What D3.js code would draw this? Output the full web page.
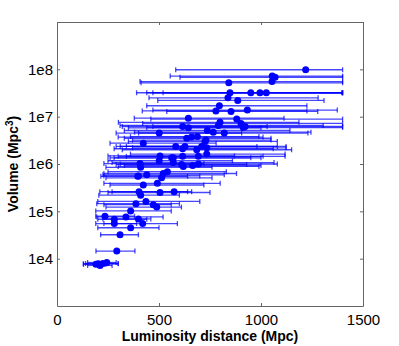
<!DOCTYPE html>
<html>
<head>
<meta charset="utf-8">
<script src="https://cdn.jsdelivr.net/npm/d3@7"></script>
<style>
  body { margin: 0; background: #fff; }
  svg text { font-family: "Liberation Sans", Arial, sans-serif; fill: #000; }
</style>
</head>
<body>
<svg id="chart"></svg>
<script>
// luminosity distance (Mpc), best estimate
const distance = [1219, 1055, 1069, 1054, 842, 848, 950, 995, 1026, 838,
  886, 796, 779, 853, 933, 644, 881, 799, 902, 913,
  791, 616, 644, 501, 737, 766, 820, 636, 660, 688,
  730, 423, 582, 627, 709, 734, 505, 570, 616, 693,
  734, 407, 501, 570, 611, 665, 410, 541, 521, 513,
  399, 440, 423, 492, 402, 410, 505, 574, 436, 387,
  472, 489, 361, 235, 281, 281, 338, 399, 420, 361,
  309, 293, 244, 202, 211, 191, 225, 685, 616, 562,
  619, 693, 725, 922, 396];

// comoving volume (Mpc^3)
const volume = [9.8e7, 7.2e7, 6.8e7, 5.5e7, 5.2e7, 3.2e7, 3.2e7, 3.2e7, 3.2e7, 2.5e7,
  2.2e7, 1.7e7, 1.32e7, 1.29e7, 1.38e7, 9.3e6, 8.9e6, 7.6e6, 7.2e6, 5.9e6,
  6.5e6, 6.2e6, 5.8e6, 4.5e6, 5.1e6, 4.7e6, 4.5e6, 3.5e6, 3.7e6, 3.8e6,
  3.2e6, 2.75e6, 2.35e6, 2.35e6, 2.35e6, 2.2e6, 1.48e6, 1.35e6, 1.45e6, 1.45e6,
  1.62e6, 1.02e6, 1.17e6, 1.07e6, 9.8e5, 9.3e5, 8.5e5, 6.9e5, 6.3e5, 5.1e5,
  5.6e5, 5.9e5, 3.6e5, 3.9e5, 2.6e5, 2.2e5, 2.5e5, 2.6e5, 1.62e5, 1.45e5,
  1.38e5, 1.23e5, 1.02e5, 7.9e4, 6.8e4, 5.5e4, 7.6e4, 6.9e4, 5.5e4, 4.5e4,
  3.2e4, 1.45e4, 8.3e3, 7.8e3, 7.2e3, 7.6e3, 7.9e3, 2.0e6, 2.1e6, 1.35e6,
  8.9e5, 1.0e6, 3.0e6, 6.2e6, 5.5e5];

// lower and upper ends of the distance interval (Mpc)
const distanceLow = [582, 555, 603, 407, 412, 390, 440, 520, 470, 451,
  494, 440, 418, 538, 470, 379, 460, 301, 420, 440,
  309, 320, 350, 290, 330, 380, 400, 330, 300, 360,
  370, 260, 290, 310, 340, 370, 250, 280, 300, 340,
  360, 230, 250, 270, 290, 330, 240, 250, 230, 240,
  230, 225, 260, 230, 210, 205, 250, 270, 200, 195,
  230, 240, 190, 190, 200, 190, 195, 225, 230, 200,
  214, 191, 150, 129, 150, 130, 140, 320, 280, 260,
  300, 310, 350, 470, 215];

const distanceHigh = [1400, 1400, 1400, 1400, 1400, 1400, 1395, 1400, 1400, 1280,
  1309, 1225, 1225, 1278, 1374, 1113, 1400, 1186, 1400, 1400,
  1305, 1030, 1000, 905, 1142, 1245, 1230, 1049, 1010, 990,
  1049, 780, 980, 1123, 1080, 1123, 870, 950, 1118, 1010,
  1118, 720, 860, 1064, 930, 1000, 760, 830, 880, 760,
  700, 820, 720, 800, 660, 600, 750, 640, 700, 600,
  560, 610, 560, 380, 440, 390, 520, 460, 590, 500,
  399, 382, 290, 300, 270, 240, 300, 1150, 1060, 1000,
  990, 1080, 1080, 1400, 640];

const xTicks = [0, 500, 1000, 1500];
const yTicks = [1e4, 1e5, 1e6, 1e7, 1e8];

const width = 399, height = 346;
const margin = {top: 22, right: 36, bottom: 40, left: 57};

const svg = d3.select('#chart')
    .attr('width', width)
    .attr('height', height);

const x = d3.scaleLinear()
    .domain([0, 1500])
    .range([margin.left, width - margin.right]);

const y = d3.scaleLog()
    .domain([1e3, 1e9])
    .range([height - margin.bottom, margin.top]);

const data = distance.map((d, i) => ({
  d: d, v: volume[i], lo: distanceLow[i], hi: distanceHigh[i]
}));

// error bars
const bars = svg.append('g')
    .attr('stroke', '#0000ff')
    .attr('stroke-opacity', 0.72)
    .attr('stroke-width', 1.3);

bars.selectAll('line.bar')
  .data(data)
  .join('line')
    .attr('class', 'bar')
    .attr('x1', p => x(p.lo))
    .attr('x2', p => x(p.hi))
    .attr('y1', p => y(p.v))
    .attr('y2', p => y(p.v));

const capH = 2.5;
bars.selectAll('line.capL')
  .data(data)
  .join('line')
    .attr('class', 'capL')
    .attr('x1', p => x(p.lo)).attr('x2', p => x(p.lo))
    .attr('y1', p => y(p.v) - capH).attr('y2', p => y(p.v) + capH);

bars.selectAll('line.capR')
  .data(data)
  .join('line')
    .attr('class', 'capR')
    .attr('x1', p => x(p.hi)).attr('x2', p => x(p.hi))
    .attr('y1', p => y(p.v) - capH).attr('y2', p => y(p.v) + capH);

// markers
svg.append('g')
  .selectAll('circle')
  .data(data)
  .join('circle')
    .attr('cx', p => x(p.d))
    .attr('cy', p => y(p.v))
    .attr('r', 3.5)
    .attr('fill', '#0000ff');

// axes (MATLAB-style box, ticks pointing inwards)
const fmtY = v => '1e' + Math.round(Math.log10(v));
const tickLen = 3;

svg.append('g')
    .attr('transform', `translate(0,${height - margin.bottom})`)
    .call(d3.axisBottom(x).tickValues(xTicks).tickSizeInner(-tickLen).tickSizeOuter(0)
      .tickPadding(8).tickFormat(d3.format('d')));

svg.append('g')
    .attr('transform', `translate(0,${margin.top})`)
    .call(d3.axisTop(x).tickValues(xTicks).tickSizeInner(-tickLen).tickSizeOuter(0).tickFormat(''));

svg.append('g')
    .attr('transform', `translate(${margin.left},0)`)
    .call(d3.axisLeft(y).tickValues(yTicks).tickSizeInner(-tickLen).tickSizeOuter(0).tickPadding(4).tickFormat(fmtY));

svg.append('g')
    .attr('transform', `translate(${width - margin.right},0)`)
    .call(d3.axisRight(y).tickValues(yTicks).tickSizeInner(-tickLen).tickSizeOuter(0).tickFormat(''));

svg.selectAll('.domain').attr('stroke', '#666');
svg.selectAll('.tick line').attr('stroke', '#666');
svg.selectAll('.tick text')
    .style('font-size', '15px')
    .style('font-family', '"Liberation Sans", Arial, sans-serif')
    .attr('fill', '#000');

// axis titles
svg.append('text')
    .attr('x', (margin.left + width - margin.right) / 2)
    .attr('y', 341)
    .attr('text-anchor', 'middle')
    .style('font-size', '14px')
    .style('font-weight', 'bold')
    .text('Luminosity distance (Mpc)');

const yTitle = svg.append('text')
    .attr('transform', `translate(18,${(margin.top + height - margin.bottom) / 2}) rotate(-90)`)
    .attr('text-anchor', 'middle')
    .style('font-size', '14px')
    .style('font-weight', 'bold');
yTitle.append('tspan').text('Volume (Mpc');
yTitle.append('tspan').attr('dy', -5).style('font-size', '10px').text('3');
yTitle.append('tspan').attr('dy', 5).text(')');
</script>
</body>
</html>
